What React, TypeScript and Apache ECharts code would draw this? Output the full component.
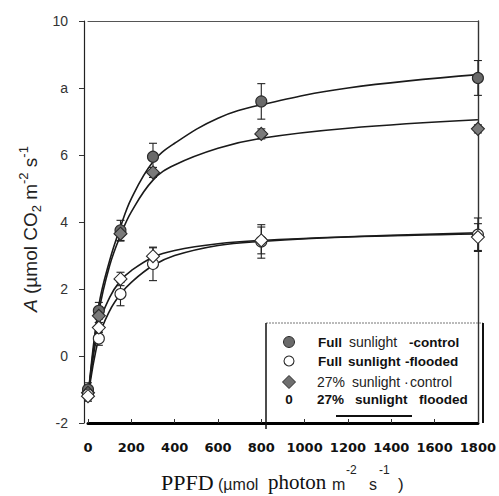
import React, { useEffect, useRef } from "react";
import * as echarts from "echarts";

// Measured PPFD levels (µmol photon m-2 s-1)
const PPFD = [0, 50, 150, 300, 800, 1800];

// Net assimilation means and error half-widths
const fullControl = [-1.0, 1.35, 3.75, 5.95, 7.6, 8.3];
const fullControlErr = [0.2, 0.25, 0.3, 0.4, 0.53, 0.52];
const fullFlooded = [-1.15, 0.52, 1.85, 2.75, 3.42, 3.62];
const fullFloodedErr = [0.15, 0.2, 0.35, 0.5, 0.5, 0.5];
const shadeControl = [-1.1, 1.2, 3.65, 5.48, 6.63, 6.78];
const shadeControlErr = [0.2, 0.2, 0.22, 0.15, 0.15, 0.12];
const shadeFlooded = [-1.2, 0.85, 2.3, 2.98, 3.45, 3.55];
const shadeFloodedErr = [0.15, 0.15, 0.2, 0.25, 0.4, 0.4];

// Fitted light-response curves
const CURVE_PPFD = [0, 50, 100, 150, 200, 300, 400, 600, 800, 1200, 1800];
const fullControlFit = [-1.25, 1.5, 2.85, 3.85, 4.7, 5.8, 6.35, 7.1, 7.5, 8.0, 8.4];
const shadeControlFit = [-1.25, 1.3, 2.7, 3.6, 4.3, 5.25, 5.7, 6.2, 6.5, 6.8, 7.05];
const fullFloodedFit = [-1.25, 0.55, 1.35, 1.85, 2.2, 2.7, 3.0, 3.3, 3.42, 3.55, 3.64];
const shadeFloodedFit = [-1.25, 0.9, 1.75, 2.25, 2.55, 2.95, 3.15, 3.35, 3.45, 3.56, 3.68];

// Axis ticks
const X_TICKS = [0, 200, 400, 600, 800, 1000, 1200, 1400, 1600, 1800];
const Y_TICKS = [-2, 0, 2, 4, 6, 8, 10];
const Y_TICK_LABELS = ["-2", "0", "2", "4", "6", "a", "10"];

// Legend texts (words as printed)
const LEGEND_WORDS = [
  ["Full", "sunlight", "-control"],
  ["Full", "sunlight", "-flooded"],
  ["27%", "sunlight", "·", "control"],
  ["27%", "sunlight", "flooded"],
];
const LEGEND_NAMES = LEGEND_WORDS.map((w) => w.join(" "));

const pts = (xs: number[], ys: number[]) => xs.map((x, i) => [x, ys[i]]);
const errs = (xs: number[], ys: number[], es: number[]) =>
  xs.map((x, i) => [x, ys[i] - es[i], ys[i] + es[i]]);

const errorRender = (params: any, api: any) => {
  const x = api.value(0);
  const lo = api.coord([x, api.value(1)]);
  const hi = api.coord([x, api.value(2)]);
  const w = 4;
  const st = { stroke: "#222", lineWidth: 1.1 };
  return {
    type: "group",
    children: [
      { type: "line", shape: { x1: lo[0], y1: lo[1], x2: hi[0], y2: hi[1] }, style: st },
      { type: "line", shape: { x1: lo[0] - w, y1: lo[1], x2: lo[0] + w, y2: lo[1] }, style: st },
      { type: "line", shape: { x1: hi[0] - w, y1: hi[1], x2: hi[0] + w, y2: hi[1] }, style: st },
    ],
  };
};

const SANS = "Liberation Sans, Arial, sans-serif";
const SERIF = "Liberation Serif, Times New Roman, serif";

const txt = (
  text: string,
  x: number,
  y: number,
  fontSize: number,
  opts: { bold?: boolean; family?: string; fill?: string; align?: string } = {}
) => ({
  type: "text",
  x,
  y,
  z: 10,
  style: {
    text,
    fontSize,
    fontWeight: opts.bold ? "bold" : "normal",
    fontFamily: opts.family || SANS,
    fill: opts.fill || "#1a1a1a",
    align: opts.align || "left",
    verticalAlign: "middle",
  },
});

export default function App() {
  const ref = useRef<HTMLDivElement>(null);

  useEffect(() => {
    if (!ref.current) return;
    const chart = echarts.init(ref.current, undefined, { renderer: "svg" });

    const curve = (name: string, ys: number[]) => ({
      type: "line",
      name,
      data: pts(CURVE_PPFD, ys),
      smooth: 0.4,
      showSymbol: false,
      symbol: "none",
      lineStyle: { color: "#1a1a1a", width: 1.6 },
      z: 2,
      silent: true,
    });
    const errSeries = (ys: number[], es: number[]) => ({
      type: "custom",
      renderItem: errorRender,
      data: errs(PPFD, ys, es),
      encode: { x: 0, y: [1, 2] },
      z: 3,
      silent: true,
    });
    const scatter = (name: string, ys: number[], symbol: string, fill: string) => ({
      type: "scatter",
      name,
      data: pts(PPFD, ys),
      symbol,
      symbolSize: symbol === "diamond" ? 13 : 11,
      itemStyle: { color: fill, borderColor: "#2a2a2a", borderWidth: 1.1, opacity: 1 },
      z: 4,
      silent: true,
    });

    const rowY = [342, 361, 382, 399];
    const iconX = 289;
    // word start positions per legend row
    const wordX = [
      [318, 349, 409],
      [318, 348, 405],
      [317, 352, 404, 410],
      [317, 355, 419],
    ];
    const wordBold = [
      [true, false, true],
      [true, true, true],
      [false, false, false, false],
      [true, true, true],
    ];

    const legendTexts: any[] = [];
    LEGEND_WORDS.forEach((words, r) => {
      words.forEach((w, k) => {
        legendTexts.push(
          txt(w, wordX[r][k], rowY[r], wordBold[r][k] ? 13.5 : 14, {
            bold: wordBold[r][k],
            fill: wordBold[r][k] ? "#111" : "#222",
          })
        );
      });
    });

    chart.setOption({
      animation: false,
      backgroundColor: "#ffffff",
      grid: { left: 88, top: 21, width: 397, height: 402, containLabel: false },
      xAxis: [
        {
          type: "value",
          min: 0,
          max: 1800,
          interval: 200,
          axisLine: { show: true, onZero: false, lineStyle: { color: "#000", width: 3 } },
          axisTick: { show: true, inside: true, length: 4, lineStyle: { color: "#333", width: 1 } },
          splitLine: { show: false },
          axisLabel: {
            margin: 18,
            fontSize: 13,
            fontWeight: "bold",
            fontFamily: "DejaVu Sans, Liberation Sans, sans-serif",
            color: "#111",
            formatter: (v: number) => (X_TICKS.includes(v) ? String(v) : ""),
          },
        },
        {
          type: "value",
          position: "top",
          min: 0,
          max: 1800,
          axisLine: { show: true, onZero: false, lineStyle: { color: "#555", width: 1.2 } },
          axisTick: { show: false },
          axisLabel: { show: false },
          splitLine: { show: false },
        },
      ],
      yAxis: [
        {
          type: "value",
          min: -2,
          max: 10,
          interval: 2,
          offset: 4,
          axisLine: { show: true, onZero: false, lineStyle: { color: "#222", width: 1.2 } },
          axisTick: { show: true, length: 5, lineStyle: { color: "#333", width: 1 } },
          splitLine: { show: false },
          axisLabel: {
            margin: 16,
            fontSize: 14,
            fontFamily: SANS,
            color: "#333",
            formatter: (v: number) => {
              const i = Y_TICKS.indexOf(v);
              return i >= 0 ? Y_TICK_LABELS[i] : "";
            },
          },
        },
        {
          type: "value",
          position: "right",
          min: -2,
          max: 10,
          axisLine: { show: true, onZero: false, lineStyle: { color: "#333", width: 1.4 } },
          axisTick: { show: false },
          axisLabel: { show: false },
          splitLine: { show: false },
        },
      ],
      series: [
        curve("fit full control", fullControlFit),
        curve("fit shade control", shadeControlFit),
        curve("fit full flooded", fullFloodedFit),
        curve("fit shade flooded", shadeFloodedFit),
        errSeries(fullControl, fullControlErr),
        errSeries(shadeControl, shadeControlErr),
        errSeries(fullFlooded, fullFloodedErr),
        errSeries(shadeFlooded, shadeFloodedErr),
        scatter(LEGEND_NAMES[0], fullControl, "circle", "#6a6a6a"),
        scatter(LEGEND_NAMES[2], shadeControl, "diamond", "#7a7a7a"),
        scatter(LEGEND_NAMES[1], fullFlooded, "circle", "#ffffff"),
        scatter(LEGEND_NAMES[3], shadeFlooded, "diamond", "#ffffff"),
      ],
      graphic: [
        // y-axis title
        {
          type: "text",
          x: 30,
          y: 229,
          rotation: Math.PI / 2,
          style: {
            text: "{i|A} (µmol CO{sub|2} m{sup|-2} s{sup|-1}",
            fontSize: 19,
            fontFamily: SANS,
            fill: "#222",
            align: "center",
            verticalAlign: "middle",
            lineHeight: 26,
            rich: {
              i: { fontStyle: "italic", fontSize: 19, fontFamily: SANS, lineHeight: 26, fill: "#222" },
              sub: { fontSize: 13, verticalAlign: "bottom", lineHeight: 13, fontFamily: SANS, fill: "#222" },
              sup: { fontSize: 13, verticalAlign: "top", lineHeight: 13, fontFamily: SANS, fill: "#222" },
            },
          },
        },
        // x-axis title pieces
        txt("PPFD", 161, 482, 22, { family: SERIF, fill: "#111" }),
        txt("(µmol", 218, 484.5, 16, { fill: "#222" }),
        txt("photon", 268, 482, 21, { family: SERIF, fill: "#111" }),
        txt("m", 332, 484.5, 16, { fill: "#222" }),
        txt("-2", 346, 470, 12, { fill: "#222" }),
        txt("s", 369, 484.5, 16, { fill: "#222" }),
        txt("-1", 379, 470, 12, { fill: "#222" }),
        txt(")", 398, 484, 17, { fill: "#222" }),
        // legend frame
        { type: "line", shape: { x1: 266, y1: 323, x2: 483, y2: 323 }, style: { stroke: "#777", lineWidth: 1, lineDash: [2, 1] }, z: 10 },
        { type: "line", shape: { x1: 266, y1: 323, x2: 266, y2: 429 }, style: { stroke: "#111", lineWidth: 1.5 }, z: 10 },
        { type: "line", shape: { x1: 483, y1: 323, x2: 483, y2: 423 }, style: { stroke: "#111", lineWidth: 2 }, z: 10 },
        { type: "line", shape: { x1: 336, y1: 416, x2: 412, y2: 416 }, style: { stroke: "#111", lineWidth: 2 }, z: 10 },
        // legend icons
        { type: "circle", shape: { cx: iconX, cy: rowY[0], r: 5.5 }, style: { fill: "#6a6a6a", stroke: "#2a2a2a", lineWidth: 1 }, z: 10 },
        { type: "circle", shape: { cx: iconX, cy: rowY[1], r: 5 }, style: { fill: "#fff", stroke: "#2a2a2a", lineWidth: 1.1 }, z: 10 },
        {
          type: "polygon",
          shape: { points: [[iconX, rowY[2] - 6.5], [iconX + 6.5, rowY[2]], [iconX, rowY[2] + 6.5], [iconX - 6.5, rowY[2]]] },
          style: { fill: "#6f6f6f", stroke: "#2a2a2a", lineWidth: 1 },
          z: 10,
        },
        txt("0", iconX, rowY[3], 13.5, { bold: true, align: "center", fill: "#111" }),
        ...legendTexts,
      ],
    });

    return () => chart.dispose();
  }, []);

  return (
    <div
      ref={ref}
      style={{ position: "fixed", left: 0, top: 0, width: 499, height: 496, background: "#fff" }}
    />
  );
}
